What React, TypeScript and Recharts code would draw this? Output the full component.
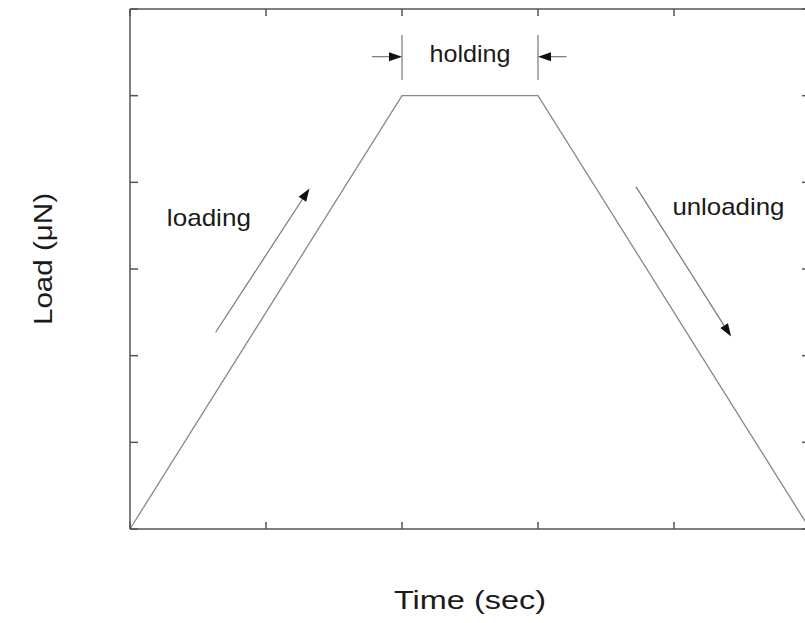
import React from "react";
import {
  LineChart,
  Line,
  XAxis,
  YAxis,
  ReferenceLine,
  ReferenceDot,
  Label,
} from "recharts";

// load profile: time (arbitrary units) vs load
const times = [0, 2, 3, 5];
const loads = [0, 5, 5, 0];
const xTicks = [0, 1, 2, 3, 4, 5];
const yTicks = [0, 1, 2, 3, 4, 5, 6];

// annotation anchors in data units
const holdingBars = [2, 3];
const holdingBarY: [number, number] = [5.7, 5.18];
const holdingArrows = [
  { from: 1.78, to: 2 },
  { from: 3.21, to: 3 },
];
const holdingArrowY = 5.45;
const phaseArrows = [
  { name: "loading", from: [0.63, 2.27], to: [1.32, 3.93] },
  { name: "unloading", from: [3.72, 3.95], to: [4.42, 2.22] },
];
const phaseLabels = [
  { text: "holding", x: 2.5, y: 5.49, width: 81 },
  { text: "loading", x: 0.58, y: 3.59, width: 84 },
  { text: "unloading", x: 4.4, y: 3.72, width: 112 },
];

const data = times.map((t, i) => ({ t, load: loads[i] }));

const FONT = '"Liberation Sans", Arial, Helvetica, sans-serif';
const AXIS = "#555";

const arrow = (props: any) => {
  const { x1, y1, x2, y2 } = props;
  const a = Math.atan2(y2 - y1, x2 - x1);
  const len = 13;
  const half = 4.5;
  const bx = x2 - len * Math.cos(a);
  const by = y2 - len * Math.sin(a);
  const pts = [
    `${x2},${y2}`,
    `${bx - half * Math.sin(a)},${by + half * Math.cos(a)}`,
    `${bx + half * Math.sin(a)},${by - half * Math.cos(a)}`,
  ].join(" ");
  return (
    <g>
      <line x1={x1} y1={y1} x2={bx} y2={by} stroke="#777" strokeWidth={1.2} />
      <polygon points={pts} fill="#111" />
    </g>
  );
};

const textShape = (text: string, width: number) => (props: any) => (
  <text
    x={props.cx}
    y={props.cy}
    textAnchor="middle"
    dominantBaseline="central"
    fontFamily={FONT}
    fontSize={24}
    textLength={width}
    lengthAdjust="spacingAndGlyphs"
    fill="#1a1a1a"
  >
    {text}
  </text>
);

export default function App() {
  return (
    <div
      style={{
        position: "absolute",
        left: 0,
        top: 0,
        width: 805,
        height: 623,
        overflow: "hidden",
        background: "#fff",
      }}
    >
      <LineChart
        width={820}
        height={623}
        data={data}
        margin={{ top: 8, right: 9, bottom: 93, left: 129 }}
      >
        <XAxis
          dataKey="t"
          type="number"
          domain={[0, 5]}
          ticks={xTicks}
          height={1}
          tickSize={-7}
          tickFormatter={() => ""}
          stroke={AXIS}
          strokeWidth={1.5}
        >
          <Label
            content={() => (
              <text
                x={470}
                y={609}
                textAnchor="middle"
                fontFamily={FONT}
                fontSize={26}
                textLength={152}
                lengthAdjust="spacingAndGlyphs"
                fill="#1a1a1a"
              >
                Time (sec)
              </text>
            )}
          />
        </XAxis>
        <XAxis
          xAxisId="top"
          orientation="top"
          dataKey="t"
          type="number"
          domain={[0, 5]}
          ticks={xTicks}
          height={1}
          tickSize={-7}
          tickFormatter={() => ""}
          stroke={AXIS}
          strokeWidth={1.5}
        />
        <YAxis
          type="number"
          domain={[0, 6]}
          ticks={yTicks}
          width={1}
          tickSize={-8}
          tickFormatter={() => ""}
          stroke={AXIS}
          strokeWidth={1.5}
        >
          <Label
            content={() => (
              <text
                x={52}
                y={259}
                transform="rotate(-90 52 259)"
                textAnchor="middle"
                fontFamily={FONT}
                fontSize={25}
                textLength={132}
                lengthAdjust="spacingAndGlyphs"
                fill="#1a1a1a"
              >
                Load (μN)
              </text>
            )}
          />
        </YAxis>
        <YAxis
          yAxisId="right"
          orientation="right"
          type="number"
          domain={[0, 6]}
          ticks={yTicks}
          width={1}
          tickSize={-8}
          tickFormatter={() => ""}
          stroke={AXIS}
          strokeWidth={1.5}
        />
        {/* invisible twin so the top/right frame axes get their ticks */}
        <Line
          xAxisId="top"
          yAxisId="right"
          dataKey="load"
          stroke="none"
          dot={false}
          activeDot={false}
          isAnimationActive={false}
        />
        <Line
          type="linear"
          dataKey="load"
          stroke="#888"
          strokeWidth={1.3}
          dot={false}
          isAnimationActive={false}
        />
        {holdingBars.map((x) => (
          <ReferenceLine
            key={`bar-${x}`}
            segment={[
              { x, y: holdingBarY[0] },
              { x, y: holdingBarY[1] },
            ]}
            stroke="#777"
            strokeWidth={1.2}
          />
        ))}
        {holdingArrows.map((a) => (
          <ReferenceLine
            key={`ha-${a.from}`}
            segment={[
              { x: a.from, y: holdingArrowY },
              { x: a.to, y: holdingArrowY },
            ]}
            shape={arrow}
          />
        ))}
        {phaseArrows.map((a) => (
          <ReferenceLine
            key={a.name}
            segment={[
              { x: a.from[0], y: a.from[1] },
              { x: a.to[0], y: a.to[1] },
            ]}
            shape={arrow}
          />
        ))}
        {phaseLabels.map((l) => (
          <ReferenceDot
            key={l.text}
            x={l.x}
            y={l.y}
            r={1}
            shape={textShape(l.text, l.width)}
          />
        ))}
      </LineChart>
    </div>
  );
}
